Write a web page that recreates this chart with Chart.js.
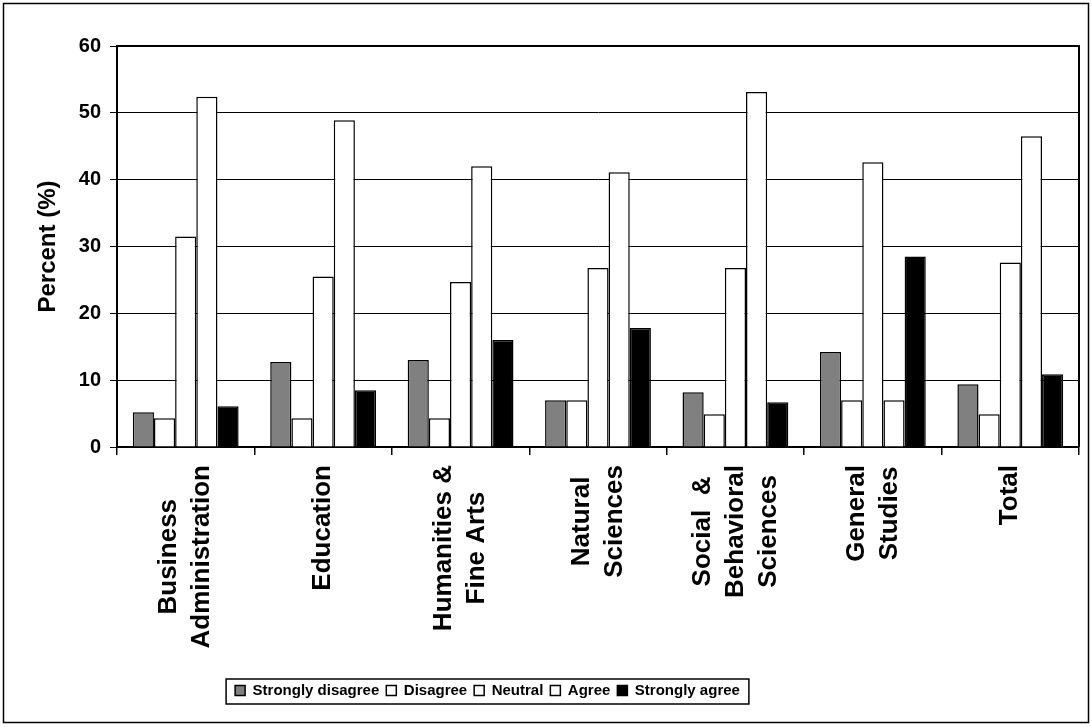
<!DOCTYPE html>
<html>
<head>
<meta charset="utf-8">
<script src="https://cdn.jsdelivr.net/npm/chart.js@4.4.1/dist/chart.umd.min.js"></script>
<style>
  html, body { margin: 0; padding: 0; background: #fff; }
  #wrap { width: 1092px; height: 727px; position: relative; }
</style>
</head>
<body>
<div id="wrap"><canvas id="chart"></canvas></div>
<script>
// Categories and series values
const categories = [
  ['Business', 'Administration'],
  ['Education'],
  ['Humanities &', 'Fine Arts'],
  ['Natural', 'Sciences'],
  ['Social  &', 'Behavioral', 'Sciences'],
  ['General', 'Studies'],
  ['Total']
];
const seriesNames = ['Strongly disagree', 'Disagree', 'Neutral', 'Agree', 'Strongly agree'];
const stronglyDisagree = [5.2, 12.7, 13.0, 7.0, 8.2, 14.2, 9.4];
const disagree = [4.3, 4.3, 4.3, 7.0, 4.9, 7.0, 4.9];
const neutral = [31.5, 25.5, 24.7, 26.8, 26.8, 42.6, 27.6];
const agree = [52.4, 48.9, 42.0, 41.1, 53.1, 7.0, 46.5];
const stronglyAgree = [6.1, 8.5, 16.0, 17.8, 6.7, 28.5, 10.9];
const yTicks = [0, 10, 20, 30, 40, 50, 60];

const fills = ['#808080', '#ffffff', '#ffffff', '#ffffff', '#000000'];
const FONT = '"Liberation Sans", Arial, sans-serif';
const LEGEND_PAD = 7;

(function () {
  const values = [stronglyDisagree, disagree, neutral, agree, stronglyAgree];
  const datasets = values.map(function (data, i) {
    return {
      label: seriesNames[i],
      data: data,
      backgroundColor: fills[i],
      borderColor: '#000',
      borderWidth: 1.5,
      categoryPercentage: 0.77,
      barPercentage: 1.0
    };
  });

  // rotated, centred multi-line category labels + frames
  const decor = {
    id: 'decor',
    afterUpdate(chart) {
      // the legend sits left of centre in the original
      chart.legend.left -= 52;
      chart.legend.right -= 52;
    },
    afterDraw(chart) {
      const ctx = chart.ctx;
      const x = chart.scales.x;
      const area = chart.chartArea;
      ctx.save();
      ctx.strokeStyle = '#000';
      ctx.lineWidth = 2;
      ctx.beginPath();
      ctx.moveTo(area.left, area.top);
      ctx.lineTo(area.right, area.top);
      ctx.lineTo(area.right, area.bottom);
      ctx.stroke();

      ctx.font = 'bold 26px ' + FONT;
      ctx.fillStyle = '#000';
      ctx.textAlign = 'center';
      ctx.textBaseline = 'middle';
      categories.forEach(function (lines, i) {
        const cx = x.getPixelForValue(i);
        const maxW = Math.max.apply(null, lines.map(function (l) { return ctx.measureText(l).width; }));
        const top = x.top + 18;
        lines.forEach(function (line, j) {
          const lx = cx + (j - (lines.length - 1) / 2) * 33;
          ctx.save();
          ctx.translate(lx, top + maxW / 2);
          ctx.rotate(-Math.PI / 2);
          ctx.fillText(line, 0, 0);
          ctx.restore();
        });
      });

      // box round the legend
      const legend = chart.legend;
      const lw = legend.lineWidths[0];
      const x0 = (legend.left + legend.right + LEGEND_PAD - lw) / 2;
      ctx.lineWidth = 1.5;
      ctx.strokeRect(x0 - 9, legend.top + LEGEND_PAD - 4, lw - LEGEND_PAD + 18, 25);

      // outer frame
      ctx.strokeRect(3.5, 3.5, 1085, 719);
      ctx.restore();
    }
  };

  new Chart(document.getElementById('chart'), {
    type: 'bar',
    data: { labels: categories.map(function (c) { return c.join(' '); }), datasets: datasets },
    options: {
      responsive: true,
      maintainAspectRatio: false,
      animation: false,
      layout: { padding: { left: 0, top: 46, right: 13, bottom: 19 } },
      plugins: {
        tooltip: { enabled: false },
        legend: {
          position: 'bottom',
          labels: {
            color: '#000',
            font: { family: FONT, size: 15, weight: 'bold' },
            boxWidth: 10,
            boxHeight: 10,
            padding: LEGEND_PAD
          }
        }
      },
      scales: {
        x: {
          ticks: { display: false },
          grid: { drawOnChartArea: false, color: '#000', lineWidth: 1.5, tickLength: 8 },
          border: { color: '#000', width: 2 },
          afterFit(scale) { scale.height = 229; }
        },
        y: {
          min: 0,
          max: 60,
          afterBuildTicks(scale) { scale.ticks = yTicks.map(function (v) { return { value: v }; }); },
          ticks: {
            color: '#000',
            padding: 9,
            font: { family: FONT, size: 20, weight: 'bold' }
          },
          grid: { color: '#000', lineWidth: 1, tickLength: 7, tickColor: '#000' },
          border: { color: '#000', width: 2 },
          title: {
            display: true,
            text: 'Percent (%)',
            color: '#000',
            font: { family: FONT, size: 24, weight: 'bold' },
            padding: { top: 34, bottom: 0 }
          },
          afterFit(scale) { scale.width = 117; }
        }
      }
    },
    plugins: [decor]
  });
})();
</script>
</body>
</html>
